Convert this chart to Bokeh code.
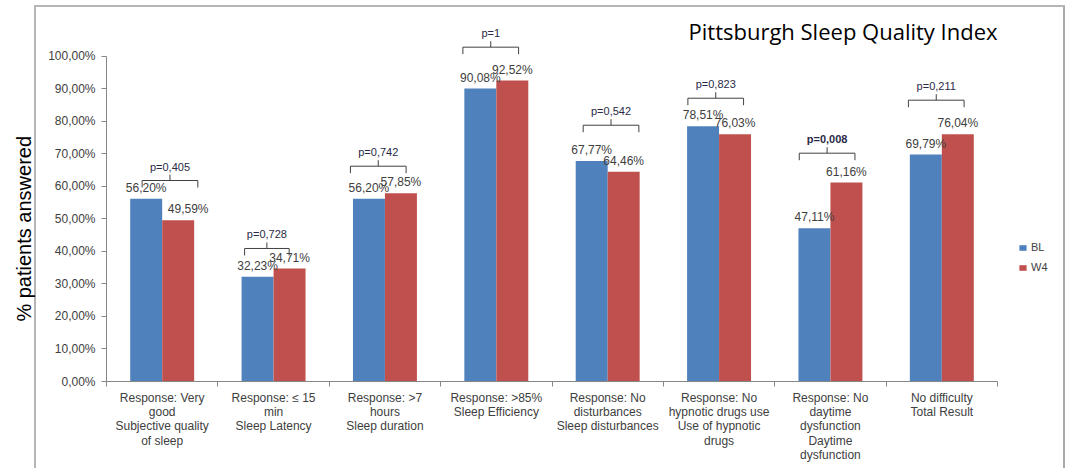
from bokeh.plotting import figure
from bokeh.models import (ColumnDataSource, Range1d, FixedTicker, Label, Legend,
                          LegendItem)
from bokeh.core.properties import value
from bokeh.embed import file_html
from bokeh.resources import INLINE

# ---------------- data ----------------
categories = [
    "Response: Very\ngood\nSubjective quality\nof sleep",
    "Response: \u2264 15\nmin\nSleep Latency",
    "Response: >7\nhours\nSleep duration",
    "Response: >85%\nSleep Efficiency",
    "Response: No\ndisturbances\nSleep disturbances",
    "Response: No\nhypnotic drugs use\nUse of hypnotic\ndrugs",
    "Response: No\ndaytime\ndysfunction\nDaytime\ndysfunction",
    "No difficulty\nTotal Result",
]
bl = [56.20, 32.23, 56.20, 90.08, 67.77, 78.51, 47.11, 69.79]
w4 = [49.59, 34.71, 57.85, 92.52, 64.46, 76.03, 61.16, 76.04]
p_values = ["p=0,405", "p=0,728", "p=0,742", "p=1", "p=0,542", "p=0,823", "p=0,008", "p=0,211"]
p_bold = [False, False, False, False, False, False, True, False]
y_ticks = [0, 10, 20, 30, 40, 50, 60, 70, 80, 90, 100]
y_tick_labels = ["0,00%", "10,00%", "20,00%", "30,00%", "40,00%", "50,00%",
                 "60,00%", "70,00%", "80,00%", "90,00%", "100,00%"]

# annotation placement (bracket heights in % units, centre shifts in category units)
bracket_y = [61.8, 40.9, 66.2, 102.8, 78.8, 87.1, 70.2, 86.5]
bracket_dx = [0.07, -0.06, -0.06, -0.05, 0.03, -0.03, -0.03, -0.05]
bracket_half = [0.25, 0.2, 0.25, 0.25, 0.25, 0.25, 0.25, 0.25]
w4_label_shift = [10, 0, 0, 0, 0, 0, 0, 0]   # px

BLUE = "#4F81BD"
RED = "#C0504D"
TXT = "#404040"
AX = "#868686"
FONT = "Liberation Sans"
BORDER = "#b5b5b5"

n = len(categories)
centers = [i + 0.5 for i in range(n)]
off = 0.1436
bw = 0.287

Y_MAX = 111.0
PX = 361.0 / Y_MAX        # px per % unit
X_MAX = 970.0 / 111.375   # frame extends past the last category (legend area)

p = figure(width=1076, height=468, output_backend="svg", toolbar_location=None,
           x_range=Range1d(0, X_MAX), y_range=Range1d(0, Y_MAX),
           min_border_left=106, min_border_right=0, min_border_top=20,
           min_border_bottom=87)
p.background_fill_color = None
p.border_fill_color = None
p.outline_line_color = None
p.xgrid.visible = False
p.ygrid.visible = False
p.styles = {
    "background": (
        f"linear-gradient({BORDER},{BORDER}) 34px 5px / 2px 100% no-repeat, "
        f"linear-gradient({BORDER},{BORDER}) 34px 5px / 1031px 2px no-repeat, "
        f"linear-gradient(#a9a9a9,#a9a9a9) 1063px 5px / 2px 100% no-repeat, white"
    )
}

def fmt(v):
    return ("%.2f" % v).replace(".", ",") + "%"

src_bl = ColumnDataSource(dict(x=[c - off for c in centers], top=bl, lab=[fmt(v) for v in bl],
                               dx=[0] * n))
src_w4 = ColumnDataSource(dict(x=[c + off for c in centers], top=w4, lab=[fmt(v) for v in w4],
                               dx=w4_label_shift))

r_bl = p.vbar(x="x", top="top", bottom=0, width=bw, source=src_bl, fill_color=BLUE, line_color=None)
r_w4 = p.vbar(x="x", top="top", bottom=0, width=bw, source=src_w4, fill_color=RED, line_color=None)

for s in (src_bl, src_w4):
    p.text(x="x", y="top", text="lab", source=s, text_align="center", text_baseline="bottom",
           x_offset="dx", y_offset=-4, text_font=value(FONT), text_font_size="12px",
           text_color=TXT)

# brackets with p-values
segs_x0, segs_y0, segs_x1, segs_y1 = [], [], [], []
for i in range(n):
    c = centers[i] + bracket_dx[i]
    h = bracket_half[i]
    y = bracket_y[i]
    segs_x0.append(c - h); segs_y0.append(y); segs_x1.append(c + h); segs_y1.append(y)
    segs_x0.append(c - h); segs_y0.append(y); segs_x1.append(c - h); segs_y1.append(y - 7 / PX)
    segs_x0.append(c + h); segs_y0.append(y); segs_x1.append(c + h); segs_y1.append(y - 7 / PX)
    segs_x0.append(c); segs_y0.append(y); segs_x1.append(c); segs_y1.append(y + 6 / PX)
p.segment(x0=segs_x0, y0=segs_y0, x1=segs_x1, y1=segs_y1, line_color=TXT, line_width=1)

pc = [centers[i] + bracket_dx[i] for i in range(n)]
src_p = ColumnDataSource(dict(x=pc, y=bracket_y, t=p_values,
                              st=["bold" if b else "normal" for b in p_bold]))
p.text(x="x", y="y", text="t", source=src_p, text_align="center", text_baseline="bottom",
       y_offset=-8, text_font=value(FONT), text_font_size="11px", text_color="#2a2a48",
       text_font_style="st")

# axes
yax = p.yaxis[0]
yax.ticker = FixedTicker(ticks=y_ticks)
yax.major_label_overrides = {t: l for t, l in zip(y_ticks, y_tick_labels)}
yax.bounds = (0, 100)
yax.minor_tick_line_color = None
yax.major_tick_out = 5
yax.major_tick_in = 0
yax.major_label_standoff = 6
yax.axis_line_color = AX
yax.major_tick_line_color = AX
yax.major_label_text_font = FONT
yax.major_label_text_font_size = "12px"
yax.major_label_text_color = TXT
yax.axis_label = "% patients answered" + "\u00a0" * 10
yax.axis_label_text_font = FONT
yax.axis_label_text_font_size = "20px"
yax.axis_label_text_font_style = "normal"
yax.axis_label_text_color = "black"
yax.axis_label_standoff = 10

xax = p.xaxis[0]
xax.ticker = FixedTicker(ticks=centers, minor_ticks=list(range(n + 1)))
xax.major_label_overrides = {c: l for c, l in zip(centers, categories)}
xax.bounds = (0, n)
xax.major_tick_out = 0
xax.major_tick_in = 0
xax.minor_tick_out = 5
xax.minor_tick_in = 0
xax.minor_tick_line_color = AX
xax.axis_line_color = AX
xax.major_label_standoff = 4
xax.major_label_text_font = FONT
xax.major_label_text_font_size = "12px"
xax.major_label_text_color = TXT
xax.major_label_text_line_height = 1.03

# legend (inside the wide frame, right of the last category)
legend = Legend(items=[LegendItem(label="BL", renderers=[r_bl]),
                       LegendItem(label="W4", renderers=[r_w4])],
                location=(912, 108), orientation="vertical",
                glyph_width=9, glyph_height=7, label_standoff=4, spacing=8,
                padding=0, margin=0, border_line_color=None, background_fill_alpha=0,
                label_text_font=FONT, label_text_font_size="11px", label_text_color=TXT)
p.add_layout(legend)

# title
p.add_layout(Label(x=688, y=30, x_units="canvas", y_units="canvas",
                   text="Pittsburgh Sleep Quality Index", text_font="Open Sans",
                   text_font_size="22px", text_color="black", text_baseline="middle"))

open("out.html", "w").write(file_html(p, INLINE))
